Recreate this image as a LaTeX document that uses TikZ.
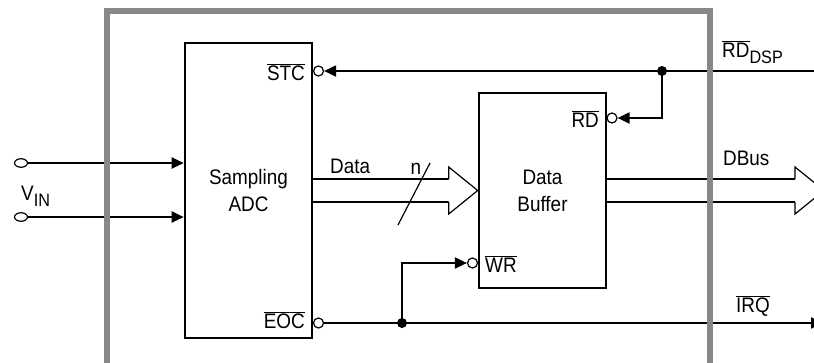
\documentclass[tikz,border=0pt]{standalone}
\usepackage{fontspec}
\setmainfont[FakeStretch=0.9]{Liberation Sans}
\usepackage{tikz}
\usetikzlibrary{shapes,arrows.meta,positioning,calc}
\definecolor{framegray}{HTML}{888888}
\tikzstyle{unit} = [rectangle, draw, line width=2.6pt, align=center,
    font=\fontsize{21}{27}\selectfont]
\tikzstyle{wire} = [line width=2pt]
\tikzstyle{sigarrow} = [wire, -{Triangle[length=12pt,width=11pt]}]
\tikzstyle{bubble} = [circle, draw, line width=1.2pt, fill=white, minimum size=10pt, inner sep=0pt]
\tikzstyle{terminal} = [ellipse, draw, line width=1.2pt, minimum width=13pt, minimum height=8.5pt, inner sep=0pt]
\tikzstyle{dot} = [circle, fill, minimum size=10pt, inner sep=0pt]
\tikzstyle{siglabel} = [font=\fontsize{21}{21}\selectfont, inner sep=0pt]
\tikzstyle{bushead} = [line width=1.2pt, fill=white]
\newcommand{\inv}[1]{$\overline{\mbox{#1}}$}
\newcommand{\lowsub}[1]{\raisebox{-6pt}{\fontsize{18}{18}\selectfont #1}}
% fat bus arrow from #1 to #2 (horizontal)
\newcommand{\busarrow}[2]{%
  \draw[wire] ($(#1)+(0,-11.5)$) -- ($(#2)+(-29,-11.5)$)
              ($(#1)+(0,11.5)$) -- ($(#2)+(-29,11.5)$);
  \draw[bushead] ($(#2)+(-29,-11.5)$) -- ++(0,-12) -- (#2)
              -- ($(#2)+(-29,23.5)$) -- ++(0,-12);}

\begin{document}
\begin{tikzpicture}[x=1pt, y=-1pt]
\useasboundingbox (0,0) rectangle (814,362);
% blocks
\node[unit, minimum width=127pt, minimum height=295pt] (adc) at (248.5,190.5) {Sampling\\ADC};
\node[unit, minimum width=127pt, minimum height=195pt] (buf) at (542.5,190.5) {Data\\Buffer};
% pins
\node[bubble] (stc) at (318.5,71) {};
\node[bubble] (eoc) at (318.5,323) {};
\node[bubble] (rd) at (612,118) {};
\node[bubble] (wr) at (472.5,263) {};
\node[siglabel, anchor=base east] (stclbl) at (305,80) {\inv{STC}};
\node[siglabel, anchor=base east] (eoclbl) at (305,328) {\inv{EOC}};
\node[siglabel, anchor=base east] (rdlbl) at (599,127) {\inv{RD}};
\node[siglabel, anchor=base west] (wrlbl) at (485,272) {\inv{WR}};
% analog inputs
\node[terminal] (vinp) at (21,163) {};
\node[terminal] (vinn) at (21,217) {};
\node[siglabel, anchor=base west] (vin) at (21,200) {V\lowsub{IN}};
\draw[sigarrow] (vinp) -- (adc.west |- vinp);
\draw[sigarrow] (vinn) -- (adc.west |- vinn);
% data path
\coordinate (dout) at (adc.east);
\coordinate (dbus) at (824,190.5);
\busarrow{dout}{buf.west}
\busarrow{buf.east}{dbus}
\coordinate (nlo) at (398,225);
\coordinate (nhi) at (430,163);
\draw[line width=1.2pt] (nlo) -- (nhi);
\node[siglabel, anchor=base] (nlbl) at (416,174) {n};
\node[siglabel, anchor=base west] (datalbl) at (330,173) {Data};
\node[siglabel, anchor=base west] (dbuslbl) at (723,165) {DBus};
% control lines
\coordinate (rddsp) at (816,71);
\coordinate (irq) at (823,323);
\node[dot] (j1) at (662,71) {};
\node[dot] (j2) at (402,323) {};
\draw[sigarrow] (rddsp) -- (stc);
\draw[sigarrow] (j1.center) |- (rd);
\draw[sigarrow] (eoc) -- (irq);
\draw[sigarrow] (j2.center) |- (wr);
\node[siglabel, anchor=base west] (rddsplbl) at (722,57) {\inv{RD}\lowsub{DSP}};
\node[siglabel, anchor=base west] (irqlbl) at (736,312) {\inv{IRQ}};
% chip outline
\draw[framegray, line width=5.5pt] (107,372) -- (107,11) -- (710,11) -- (710,372);
\end{tikzpicture}
\end{document}
